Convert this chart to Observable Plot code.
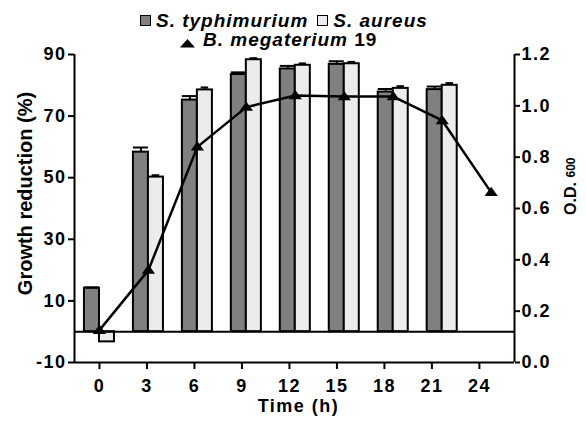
<!DOCTYPE html>
<html>
<head>
<meta charset="utf-8">
<script src="https://cdn.jsdelivr.net/npm/d3@7"></script>
<script src="https://cdn.jsdelivr.net/npm/@observablehq/plot@0.6"></script>
<style>
  body { margin: 0; background: #fff; }
  #wrap { position: relative; width: 586px; height: 428px; font-family: "Liberation Sans", Arial, sans-serif; color: #000; }
  .leg { position: absolute; display: flex; align-items: center; font-size: 19px; font-weight: bold; line-height: 19px; letter-spacing: 1px; white-space: nowrap; }
  .sq { display: inline-block; width: 9px; height: 9px; border: 1.5px solid #000; margin-right: 5px; }
  .it { font-style: italic; }
  #chart svg text[transform*="rotate"] { letter-spacing: 0; }
</style>
</head>
<body>
<div id="wrap">
  <div id="chart"></div>
  <div class="leg" style="left:140px; top:11px;">
    <span class="sq" style="background:#808080"></span><span class="it">S. typhimurium</span>
    <span class="sq" style="background:#ececec; margin-left:9px"></span><span class="it">S. aureus</span>
  </div>
  <div class="leg" style="left:180px; top:30px;">
    <svg width="15" height="10" style="margin-right:8px; margin-top:6px"><polygon points="0,9.5 7.5,1 15,9.5" fill="#000"/></svg>
    <span class="it">B. megaterium</span>&nbsp;<span>19</span>
  </div>
</div>
<script>
// ---- data ----
const barTimes = [0, 3, 6, 9, 12, 15, 18, 21];
const typhimurium = [14.1, 58.3, 75.2, 83.5, 85.3, 86.8, 77.8, 78.6];
const typhimuriumErr = [0.3, 1.5, 1.3, 0.7, 1.0, 1.0, 1.0, 1.0];
const aureus = [-3.3, 50.2, 78.5, 88.3, 86.5, 87.0, 79.0, 80.0];
const aureusErr = [0, 0.6, 0.8, 0.5, 0.6, 0.6, 0.7, 0.7];
const odTimes = [0, 3, 6, 9, 12, 15, 18, 21, 24];
const od600 = [0.126, 0.36, 0.84, 0.995, 1.04, 1.036, 1.036, 0.943, 0.663];
const xTickLabels = [0, 3, 6, 9, 12, 15, 18, 21, 24];
const yTickLabels = [-10, 10, 30, 50, 70, 90];
const odTickLabels = [0.0, 0.2, 0.4, 0.6, 0.8, 1.0, 1.2];

// ---- layout helpers ----
const barW = 0.92;                 // bar width in hours
const tickStretch = 15.83 / 16.32; // axis tick spacing relative to group spacing in the original
const yMin = -10, yMax = 90, odMax = 1.2;
const odToY = v => yMin + v * (yMax - yMin) / odMax;
const yToOd = v => (v - yMin) * odMax / (yMax - yMin);

const dark = barTimes.map((t, i) => ({t, x1: t - barW, x2: t, c: t - barW / 2, v: typhimurium[i], e: typhimuriumErr[i], cap: barW / 2}));
const light = barTimes.map((t, i) => ({t, x1: t, x2: t + barW, c: t + barW / 2, v: aureus[i], e: aureusErr[i], cap: barW / 4}));
const errs = [...dark, ...light].filter(d => d.e > 0);
const odData = odTimes.map((t, i) => ({t, od: od600[i]}));

const flatTriangle = {
  draw(context, size) {
    const w = Math.sqrt(size) * 1.5, h = w * 0.7;
    context.moveTo(0, -h * 0.6);
    context.lineTo(w / 2, h * 0.4);
    context.lineTo(-w / 2, h * 0.4);
    context.closePath();
  }
};

const xDomain = [-1.53, 25.43];

const chart = Plot.plot({
  width: 586,
  height: 428,
  marginTop: 54,
  marginBottom: 66,
  marginLeft: 74,
  marginRight: 72,
  style: {fontFamily: "'Liberation Sans', Arial, sans-serif", fontSize: "18px", fontWeight: "bold", letterSpacing: "1.5px", color: "#000", background: "#fff"},
  x: {domain: xDomain},
  y: {domain: [yMin, yMax]},
  marks: [
    Plot.rectY(dark, {x1: "x1", x2: "x2", y1: 0, y2: "v", fill: "#808080", stroke: "#000", strokeWidth: 2}),
    Plot.rectY(light, {x1: "x1", x2: "x2", y1: 0, y2: "v", fill: "#ececec", stroke: "#000", strokeWidth: 2}),
    Plot.ruleX(errs, {x: "c", y1: "v", y2: d => d.v + d.e, stroke: "#000", strokeWidth: 2}),
    Plot.ruleY(errs, {y: d => d.v + d.e, x1: d => d.c - d.cap, x2: d => d.c + d.cap, stroke: "#000", strokeWidth: 2}),
    Plot.ruleY([0], {stroke: "#000", strokeWidth: 2}),
    Plot.line(odData, {x: "t", y: d => odToY(d.od), stroke: "#000", strokeWidth: 2.5}),
    Plot.dot(odData, {x: "t", y: d => odToY(d.od), symbol: flatTriangle, r: 5, fill: "#000", stroke: "none"}),
    Plot.ruleX(xDomain, {stroke: "#000", strokeWidth: 2}),
    Plot.ruleY([yMin], {stroke: "#000", strokeWidth: 2}),
    Plot.axisY({anchor: "left", ticks: yTickLabels, tickFormat: d => String(d), tickSize: 6, tickPadding: 2, strokeWidth: 2, label: null, fontSize: 18}),
    Plot.axisY({anchor: "right", ticks: odTickLabels.map(odToY), tickFormat: v => yToOd(v).toFixed(1), tickSize: 5, tickPadding: 2, strokeWidth: 2, label: null, fontSize: 18}),
    Plot.axisX({anchor: "bottom", ticks: xTickLabels.map(l => l * tickStretch), tickFormat: v => String(Math.round(v / tickStretch)), tickSize: 7, tickPadding: 10, strokeWidth: 2, label: null, fontSize: 18}),
    Plot.text(["Growth reduction (%)"], {text: d => d, frameAnchor: "left", textAnchor: "middle", lineAnchor: "middle", dx: -49, dy: -15, rotate: -90, fontSize: 20, fontWeight: "bold"}),
    Plot.text(["Time (h)"], {text: d => d, frameAnchor: "bottom", dx: 4, dy: 49, fontSize: 18, fontWeight: "bold"}),
    Plot.text(["O.D."], {text: d => d, frameAnchor: "right", textAnchor: "middle", lineAnchor: "middle", dx: 56, dy: -10, rotate: -90, fontSize: 16, fontWeight: "bold"}),
    Plot.text(["600"], {text: d => d, frameAnchor: "right", textAnchor: "middle", lineAnchor: "middle", dx: 57, dy: -41, rotate: -90, fontSize: 12, fontWeight: "bold"})
  ]
});
document.getElementById("chart").appendChild(chart);
</script>
</body>
</html>
